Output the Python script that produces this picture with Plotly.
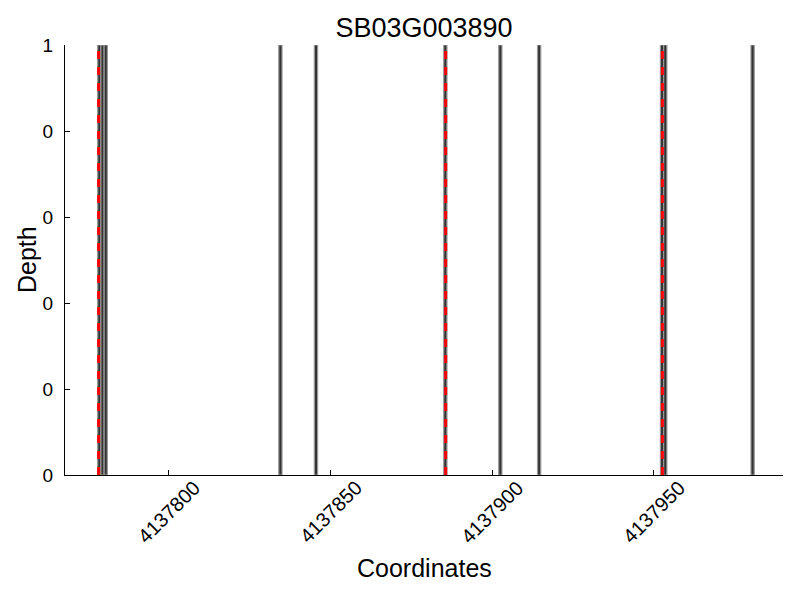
import plotly.graph_objects as go

title = "SB03G003890"
x_title = "Coordinates"
y_title = "Depth"
coords = [4137778, 4137779, 4137780, 4137834, 4137845, 4137885,
          4137902, 4137914, 4137952, 4137953, 4137980]
depth = [1, 1, 1, 1, 1, 1, 1, 1, 1, 1, 1]
marker_positions = [4137778.3, 4137885.6, 4137952.6]
x_tick_vals = [4137800, 4137850, 4137900, 4137950]
x_tick_text = ["4137800", "4137850", "4137900", "4137950"]
y_tick_vals = [0, 0.2, 0.4, 0.6, 0.8, 1.0]
y_tick_text = ["0", "0", "0", "0", "0", "1"]

FONT = "Liberation Sans, Arial, Helvetica, sans-serif"
L, R, T, B = 65, 783, 45, 475
W, H = 800, 600

fig = go.Figure()
fig.add_trace(go.Bar(
    x=coords, y=depth, width=1, offset=0,
    marker=dict(color="#333333", line=dict(color="#9a9a9a", width=1.2)),
    showlegend=False, hoverinfo="skip",
))
for p in marker_positions:
    fig.add_trace(go.Scatter(
        x=[p, p], y=[0, 1], mode="lines",
        line=dict(color="red", width=3, dash="8px,8px"),
        showlegend=False, hoverinfo="skip",
    ))

annotations = [
    dict(text=x_title, xref="paper", yref="paper",
         x=0.5, y=-(568 - B) / (B - T), xanchor="center", yanchor="middle",
         showarrow=False, font=dict(size=25, family=FONT)),
    dict(text=y_title, xref="paper", yref="paper", textangle=-90,
         x=-(L - 27) / (R - L), y=0.5, xanchor="center", yanchor="middle",
         showarrow=False, font=dict(size=25, family=FONT)),
]
for v, t in zip(x_tick_vals, x_tick_text):
    annotations.append(dict(
        text=t, x=v, xref="x", y=-(512 - B) / (B - T), yref="paper",
        textangle=-45, xanchor="center", yanchor="middle", showarrow=False,
        font=dict(size=20, family=FONT)))

fig.update_layout(
    width=W, height=H,
    paper_bgcolor="white", plot_bgcolor="white",
    margin=dict(l=L, r=W - R, t=T, b=H - B, autoexpand=False),
    font=dict(family=FONT, color="black", size=16),
    title=dict(text=title, x=(L + R) / 2 / W, xanchor="center",
               y=1 - 28 / H, yanchor="middle",
               font=dict(size=27, family=FONT)),
    annotations=annotations,
)
fig.update_xaxes(
    range=[4137767.9, 4137989.9], automargin=False,
    tickvals=x_tick_vals, showticklabels=False,
    ticks="inside", ticklen=5, tickcolor="black",
    showline=True, linecolor="black", linewidth=1,
    showgrid=False, zeroline=False,
)
fig.update_yaxes(
    range=[0, 1], automargin=False,
    tickvals=y_tick_vals, ticktext=y_tick_text,
    ticks="inside", ticklen=5, tickcolor="black",
    showline=True, linecolor="black", linewidth=1,
    showgrid=False, zeroline=False,
    tickfont=dict(size=19), ticklabelstandoff=7,
)

fig.write_html("out.html", config={"displayModeBar": False},
               post_script="document.body.style.margin='0';")
